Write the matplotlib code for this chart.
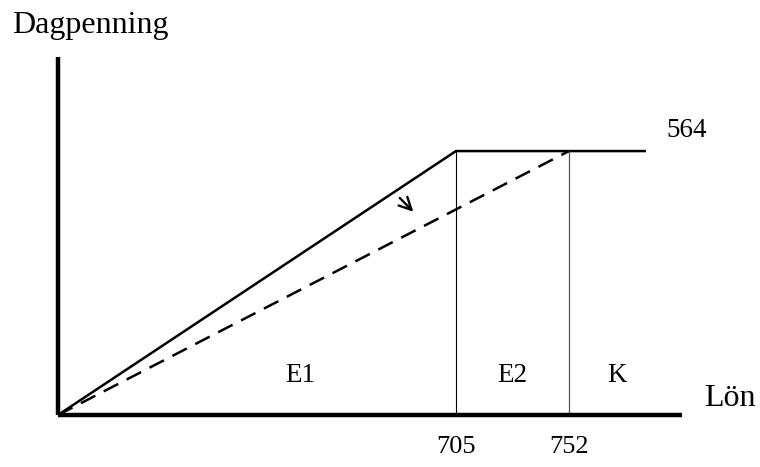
import numpy as np
import matplotlib
matplotlib.use("Agg")
import matplotlib.pyplot as plt

# brytpunkter (lön) och tak för dagpenning
brytpunkter = [705, 752]
tak = 564
lon_slut = 784
omraden = ["E1", "E2", "K"]
omrade_x = [429, 728.5, 772]

# schematisk x-skala: avstånden i bilden är inte proportionella
knutar_data = [0, 705, 752, 900]
knutar_skala = [0, 398, 511, 867]


def fram(x):
    return np.interp(x, knutar_data, knutar_skala)


def bak(x):
    return np.interp(x, knutar_skala, knutar_data)


plt.rcParams['font.family'] = ['Liberation Serif', 'DejaVu Serif']

fig = plt.figure(figsize=(7.6, 4.67), dpi=100)
ax = fig.add_axes([58 / 760, (467 - 415) / 467, (682 - 58) / 760, (415 - 57) / 467])
ax.set_xscale('function', functions=(fram, bak))
ax.set_xlim(0, 799)
ax.set_ylim(0, 765)

# heldragen: gammal regel, streckad: ny regel
ax.plot([0, brytpunkter[0], lon_slut], [0, tak, tak], color='black', lw=1.8,
        solid_capstyle='butt', clip_on=False)
ax.plot([0, brytpunkter[1]], [0, tak], color='black', lw=1.8, dashes=(6.5, 3.8),
        clip_on=False)
ax.vlines(brytpunkter[0], 0, tak, color='black', lw=0.8)
ax.vlines(brytpunkter[1], 0, tak, color='#555555', lw=0.9)

for namn, x in zip(omraden, omrade_x):
    ax.text(x, 85, namn, ha='center', va='center', fontsize=19.5)

ax.annotate('', xy=(633, 430), xytext=(602, 468),
            arrowprops=dict(arrowstyle='->', color='black', lw=1.7,
                            mutation_scale=22))

ax.text(801, 609, str(tak), ha='center', va='center', fontsize=19.5, clip_on=False)
ax.text(808, 35, 'Lön', ha='left', va='center', fontsize=23, clip_on=False)
fig.text(12 / 760, 1 - 26 / 467, 'Dagpenning', ha='left', va='center', fontsize=23)

ax.set_xticks(brytpunkter)
ax.set_xticklabels([str(b) for b in brytpunkter], fontsize=19)
ax.tick_params(axis='x', length=0, pad=15)
ax.set_yticks([])

for side in ['top', 'right']:
    ax.spines[side].set_visible(False)
for side in ['left', 'bottom']:
    ax.spines[side].set_linewidth(3.2)
    ax.spines[side].set_capstyle('butt')

fig.savefig('out.png', dpi=100)
